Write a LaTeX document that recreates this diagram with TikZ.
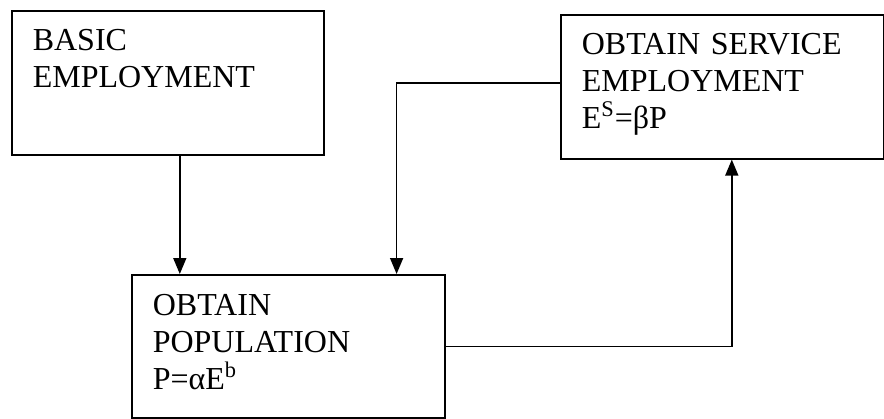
\documentclass[tikz,border=0pt]{standalone}
\usepackage{fontspec}
\setmainfont{LiberationSerif}[Extension=.ttf, UprightFont=*-Regular, BoldFont=*-Bold]
\usepackage{tikz}
\usetikzlibrary{arrows.meta}
\usetikzlibrary{positioning}

\begin{document}
\begin{tikzpicture}[x=0.5pt, y=-0.5pt, >={Triangle[length=8pt, width=6.5pt]},
    box/.style={draw, line width=0.8pt, anchor=north west, inner xsep=10.5pt, inner ysep=0pt, align=left,
        font=\fontsize{16pt}{18.5pt}\selectfont},
    link/.style={->, line width=0.8pt}]

            \useasboundingbox (0,0) rectangle (884,418);

            % Boxes
            \node[box, text width=135pt, text height=20pt, text depth=52pt] (basic) at (11,10) {BASIC\\EMPLOYMENT};
            \node[box, text width=135.5pt, text height=20.5pt, text depth=51pt] (pop) at (131,274) {OBTAIN\\POPULATION\\P=αE\textsuperscript{b}};
            \node[box, text width=140.5pt, text height=20pt, text depth=52pt] (serv) at (560,14) {OBTAIN SERVICE\\EMPLOYMENT\\E\textsuperscript{S}=βP};

            % Relationships
            \draw[link] ([xshift=6pt]basic.south) -- ([xshift=6pt]basic.south |- pop.north);
            \draw[link] ([yshift=2pt]serv.west) -| ([xshift=-24.5pt]pop.north east);
            \draw[link] (pop.east) -| ([xshift=4.75pt]serv.south);

        \end{tikzpicture}
\end{document}
